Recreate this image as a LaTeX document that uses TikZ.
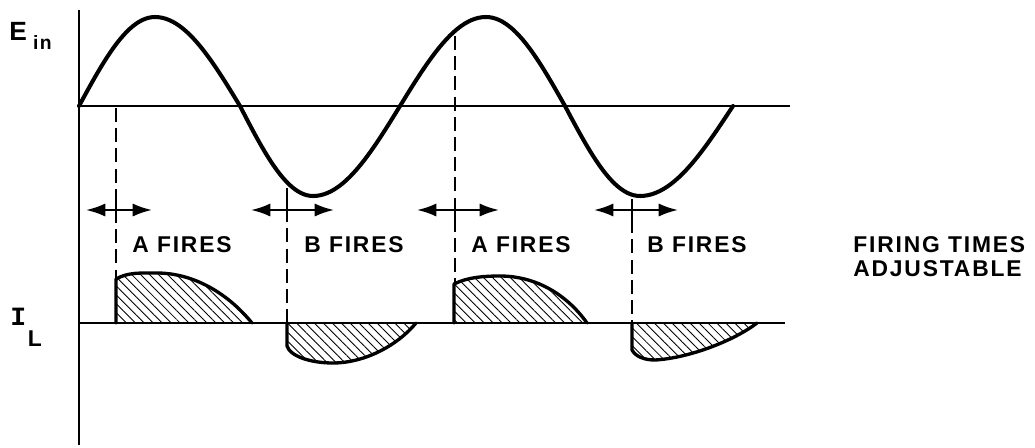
\documentclass[tikz,border=0pt]{standalone}
\usepackage{fontspec}
\setmainfont{Liberation Sans}
\newfontfamily\lblfont{Liberation Sans}[LetterSpace=8]
\newfontfamily\serifI{Liberation Mono}
\usetikzlibrary{arrows.meta,patterns.meta}
\tikzset{
  wave/.style={line width=2.3pt, line cap=round, line join=round},
  axisline/.style={line width=1.2pt},
  guide/.style={line width=1.1pt, dash pattern=on 8pt off 3.5pt},
  tickmark/.style={line width=1.1pt},
  adjarrow/.style={line width=1.3pt, {Latex[length=11pt,width=7.5pt]}-{Latex[length=11pt,width=7.5pt]}},
  hatch/.style={pattern={Lines[angle=-45,distance=3.6pt,line width=0.5pt]}},
  pulse/.style={line width=1.9pt, line join=round, line cap=round},
  lbl/.style={font=\lblfont\bfseries\fontsize{13}{14}\selectfont, inner sep=0pt},
}
\begin{document}
\begin{tikzpicture}[x=0.02cm,y=-0.02cm]
\useasboundingbox (0,0) rectangle (1035,447);

% axes
\draw[axisline] (79,10) -- (79,445);
\draw[axisline] (79,106) -- (790,106);
\draw[axisline] (79,323) -- (785,323);

% hatched current pulses
\fill[hatch] (116,323) -- (116,279) .. controls (128,272) and (142,273) .. (157,273) .. controls (190,273) and (225,290) .. (252,323) -- cycle;
\draw[pulse] (116,323) -- (116,279) .. controls (128,272) and (142,273) .. (157,273) .. controls (190,273) and (225,290) .. (252,323);
\fill[hatch] (454,323) -- (454,284) .. controls (468,277) and (485,276) .. (500,276) .. controls (533,276) and (565,292) .. (587,323) -- cycle;
\draw[pulse] (454,323) -- (454,284) .. controls (468,277) and (485,276) .. (500,276) .. controls (533,276) and (565,292) .. (587,323);
\fill[hatch] (287,323) -- (287,346) .. controls (290,356) and (310,363) .. (333,363) .. controls (365,363) and (398,345) .. (416,323) -- cycle;
\draw[pulse] (287,323) -- (287,346) .. controls (290,356) and (310,363) .. (333,363) .. controls (365,363) and (398,345) .. (416,323);
\fill[hatch] (632,323) -- (632,350) .. controls (636,357) and (645,360) .. (655,360) .. controls (690,358) and (735,340) .. (757,323) -- cycle;
\draw[pulse] (632,323) -- (632,350) .. controls (636,357) and (645,360) .. (655,360) .. controls (690,358) and (735,340) .. (757,323);

% input sine wave
\draw[wave]
  plot[domain=0:90,samples=25,variable=\t] ({79+76*\t/90},{106-89*sin(\t)})
  -- plot[domain=0:90,samples=25,variable=\t] ({155+85*\t/90},{106-89*cos(\t)})
  -- plot[domain=0:90,samples=25,variable=\t] ({240+73*\t/90},{106+90*sin(\t)})
  -- plot[domain=0:90,samples=25,variable=\t] ({313+87*\t/90},{106+90*cos(\t)})
  -- plot[domain=0:90,samples=25,variable=\t] ({400+86*\t/90},{106-89*sin(\t)})
  -- plot[domain=0:90,samples=25,variable=\t] ({486+79*\t/90},{106-89*cos(\t)})
  -- plot[domain=0:90,samples=25,variable=\t] ({565+75*\t/90},{106+90*sin(\t)})
  -- plot[domain=0:90,samples=25,variable=\t] ({640+93*\t/90},{106+90*cos(\t)});

% firing guide lines
\draw[guide] (116,108) -- (116,279);
\draw[guide] (287,188) -- (287,323);
\draw[guide] (455,36) -- (455,284);
\draw[guide] (632,199) -- (632,323);
\foreach \x in {116,287,455,632} \draw[tickmark] (\x,199) -- (\x,221);

% adjustment arrows
\coordinate (a1l) at (86,210);  \coordinate (a1r) at (152,210);
\coordinate (a2l) at (251,210); \coordinate (a2r) at (334,210);
\coordinate (a3l) at (417,210); \coordinate (a3r) at (499,210);
\coordinate (a4l) at (594,210); \coordinate (a4r) at (678,210);
\draw[adjarrow] (a1l) -- (a1r);
\draw[adjarrow] (a2l) -- (a2r);
\draw[adjarrow] (a3l) -- (a3r);
\draw[adjarrow] (a4l) -- (a4r);

% labels
\node[lbl, anchor=base] (fa1) at (182,252) {A FIRES};
\node[lbl, anchor=base] (fb1) at (354,252) {B FIRES};
\node[lbl, anchor=base] (fa2) at (521,252) {A FIRES};
\node[lbl, anchor=base] (fb2) at (697,252) {B FIRES};
\node[lbl, anchor=base west] (adj1) at (853,252) {FIRING TIMES};
\node[lbl, anchor=base west] (adj2) at (853,276) {ADJUSTABLE};

\node[lbl, anchor=base west] (ein) at (9,40) {\fontsize{15}{15}\selectfont E\hspace{3.5pt}\raisebox{-5.5pt}{\fontsize{11}{11}\selectfont in}};
\node[lbl, anchor=base west] (il) at (10,325) {{\serifI\bfseries\fontsize{15}{15}\selectfont I}\hspace{1pt}\raisebox{-12pt}{\fontsize{13}{13}\selectfont L}};
\end{tikzpicture}
\end{document}
